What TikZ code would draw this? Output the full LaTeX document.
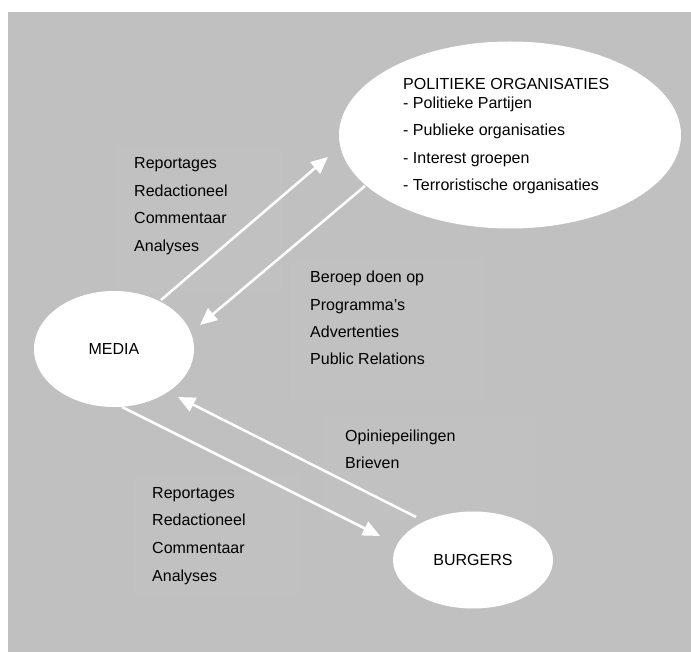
\documentclass[tikz,border=0pt]{standalone}
\usepackage{fontspec}
\setmainfont{Liberation Sans}
\usetikzlibrary{arrows.meta,shapes.geometric}
\definecolor{bg}{HTML}{C0C0C0}
\definecolor{boxc}{HTML}{C1C1C1}
\begin{document}
\begin{tikzpicture}[x=1pt,y=-1pt,
  oval/.style={ellipse,fill=white,draw=none,inner sep=0pt,font=\fontsize{16}{19}\selectfont},
  lbl/.style={anchor=west,inner sep=0pt,font=\fontsize{16}{19}\selectfont,text height=11.5pt,text depth=3pt},
  flow/.style={draw=white,line width=2.5pt,-{Triangle[length=17pt,width=15pt]}},
  tbox/.style={fill=boxc,draw=none}]
\useasboundingbox (0,0) rectangle (691,652);
\fill[white] (0,0) rectangle (691,652);
\fill[bg] (8,12) rectangle (691,652);
% faint text boxes
\fill[tbox] (115,146) rectangle (282,291);
\fill[tbox] (290,258) rectangle (483,401);
\fill[tbox] (324,416) rectangle (535,520);
\fill[tbox] (134,474) rectangle (300,595);
% ellipses
\node[oval,minimum width=342pt,minimum height=187pt] (pol) at (510,135) {};
\node[oval,minimum width=160pt,minimum height=116pt] (media) at (114,349) {MEDIA};
\node[oval,minimum width=160pt,minimum height=97pt] (burg) at (473,560) {BURGERS};
% text in political ellipse
\node[lbl] (p0) at (403,85) {POLITIEKE ORGANISATIES};
\node[lbl] (p1) at (403,104) {- Politieke Partijen};
\node[lbl] (p2) at (403,131) {- Publieke organisaties};
\node[lbl] (p3) at (403,159) {- Interest groepen};
\node[lbl] (p4) at (403,186) {- Terroristische organisaties};
% left top labels
\node[lbl] (a1) at (134,164) {Reportages};
\node[lbl] (a2) at (134,192) {Redactioneel};
\node[lbl] (a3) at (134,219) {Commentaar};
\node[lbl] (a4) at (134,247) {Analyses};
% middle labels
\node[lbl] (b1) at (310,278) {Beroep doen op};
\node[lbl] (b2) at (310,306) {Programma’s};
\node[lbl] (b3) at (310,333) {Advertenties};
\node[lbl] (b4) at (310,360) {Public Relations};
% opinion labels
\node[lbl] (c1) at (345,437) {Opiniepeilingen};
\node[lbl] (c2) at (345,464) {Brieven};
% bottom left labels
\node[lbl] (d1) at (152,494) {Reportages};
\node[lbl] (d2) at (152,521) {Redactioneel};
\node[lbl] (d3) at (152,549) {Commentaar};
\node[lbl] (d4) at (152,577) {Analyses};
% arrow endpoints
\coordinate (m1) at (161,300);
\coordinate (t1) at (328,157);
\coordinate (s2) at (365,186);
\coordinate (t2) at (200,325);
\coordinate (s3) at (416,517);
\coordinate (t3) at (178,397);
\coordinate (s4) at (122,407);
\coordinate (t4) at (380,536);
\draw[flow] (m1) -- (t1);
\draw[flow] (s2) -- (t2);
\draw[flow] (s3) -- (t3);
\draw[flow] (s4) -- (t4);
\end{tikzpicture}
\end{document}
